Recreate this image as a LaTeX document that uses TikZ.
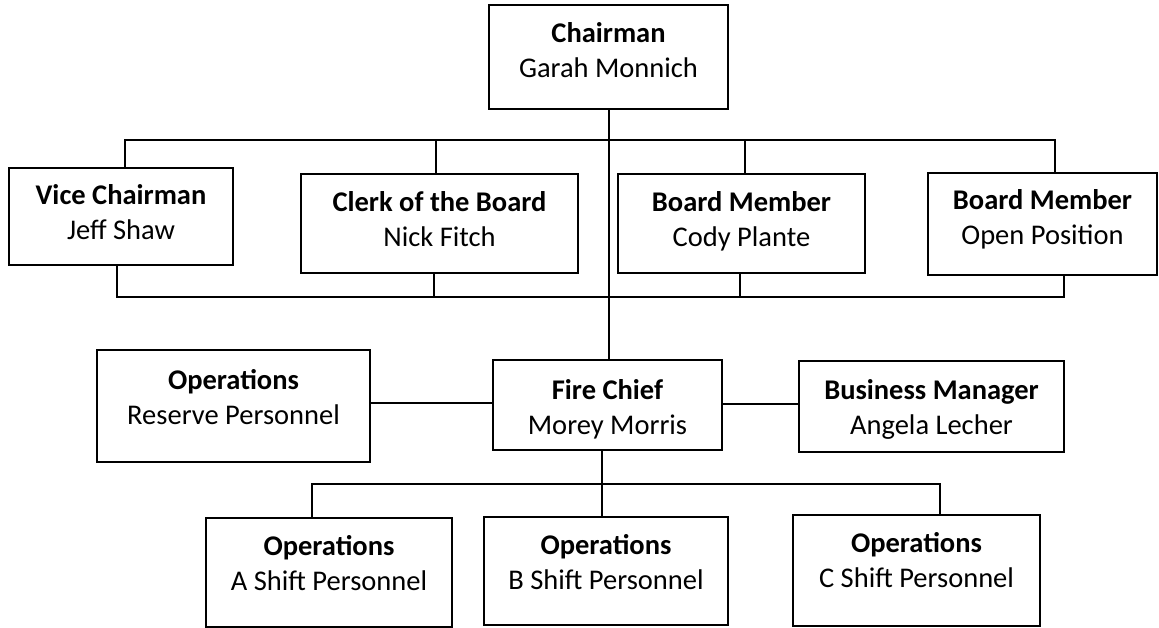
\documentclass[tikz,border=0pt]{standalone}
\usepackage{fontspec}
\setmainfont{Carlito}
\begin{document}
\begin{tikzpicture}[x=1pt,y=-1pt,
  box/.style={draw, line width=2pt, inner sep=0pt, anchor=north west},
  lbl/.style={inner sep=0pt, anchor=north, align=center, font=\fontsize{28.5}{35}\selectfont},
  conn/.style={line width=2pt}]
\useasboundingbox (0,0) rectangle (1159,628);
% boxes
\node[box, minimum width=239pt, minimum height=104pt] (chair) at (488,4) {};
\node[box, minimum width=224pt, minimum height=97pt] (vice) at (8,167) {};
\node[box, minimum width=277pt, minimum height=99pt] (clerk) at (300,173) {};
\node[box, minimum width=247pt, minimum height=99pt] (cody) at (617,173) {};
\node[box, minimum width=229pt, minimum height=102pt] (open) at (927,172) {};
\node[box, minimum width=273pt, minimum height=112pt] (reserve) at (96,349) {};
\node[box, minimum width=229pt, minimum height=90pt] (chief) at (492,359) {};
\node[box, minimum width=265pt, minimum height=91pt] (biz) at (798,360) {};
\node[box, minimum width=246pt, minimum height=109pt] (ashift) at (205,517) {};
\node[box, minimum width=244pt, minimum height=108pt] (bshift) at (483,516) {};
\node[box, minimum width=247pt, minimum height=111pt] (cshift) at (792,514) {};
% labels
\node[lbl] (chair-t) at ([yshift=-18pt]chair.north) {\textbf{Chairman}\\Garah Monnich};
\node[lbl] (vice-t) at ([yshift=-17pt]vice.north) {\textbf{Vice Chairman}\\Jeff Shaw};
\node[lbl] (clerk-t) at ([yshift=-18pt]clerk.north) {\textbf{Clerk of the Board}\\Nick Fitch};
\node[lbl] (cody-t) at ([yshift=-18pt]cody.north) {\textbf{Board Member}\\Cody Plante};
\node[lbl] (open-t) at ([yshift=-17pt]open.north) {\textbf{Board Member}\\Open Position};
\node[lbl] (reserve-t) at ([yshift=-20pt]reserve.north) {\textbf{Operations}\\Reserve Personnel};
\node[lbl] (chief-t) at ([yshift=-20pt]chief.north) {\textbf{Fire Chief}\\Morey Morris};
\node[lbl] (biz-t) at ([yshift=-19pt]biz.north) {\textbf{Business Manager}\\Angela Lecher};
\node[lbl] (ashift-t) at ([yshift=-18pt]ashift.north) {\textbf{Operations}\\A Shift Personnel};
\node[lbl] (bshift-t) at ([yshift=-18pt]bshift.north) {\textbf{Operations}\\B Shift Personnel};
\node[lbl] (cshift-t) at ([yshift=-18pt]cshift.north) {\textbf{Operations}\\C Shift Personnel};
% junction coordinates
\coordinate (tl) at (125,140);
\coordinate (tr) at (1055,140);
\coordinate (t2) at (436,140);
\coordinate (t3) at (745,140);
\coordinate (bl) at (117,297);
\coordinate (br) at (1064,297);
\coordinate (b2) at (434,297);
\coordinate (b3) at (740,297);
\coordinate (sl) at (312,484);
\coordinate (sr) at (940,484);
\coordinate (sm) at (602,484);
% connectors
\draw[conn] (chair.south) -- (chair.south |- chief.north);
\draw[conn] (vice.north -| tl) -- (tl) -- (tr) -- (open.north -| tr);
\draw[conn] (t2) -- (clerk.north -| t2);
\draw[conn] (t3) -- (cody.north -| t3);
\draw[conn] (vice.south -| bl) -- (bl) -- (br) -- (open.south -| br);
\draw[conn] (clerk.south -| b2) -- (b2);
\draw[conn] (cody.south -| b3) -- (b3);
\draw[conn] (reserve.east |- 0,403) -- (chief.west |- 0,403);
\draw[conn] (chief.east |- 0,404) -- (biz.west |- 0,404);
\draw[conn] (chief.south -| sm) -- (bshift.north -| sm);
\draw[conn] (ashift.north -| sl) -- (sl) -- (sr) -- (cshift.north -| sr);
\end{tikzpicture}
\end{document}
